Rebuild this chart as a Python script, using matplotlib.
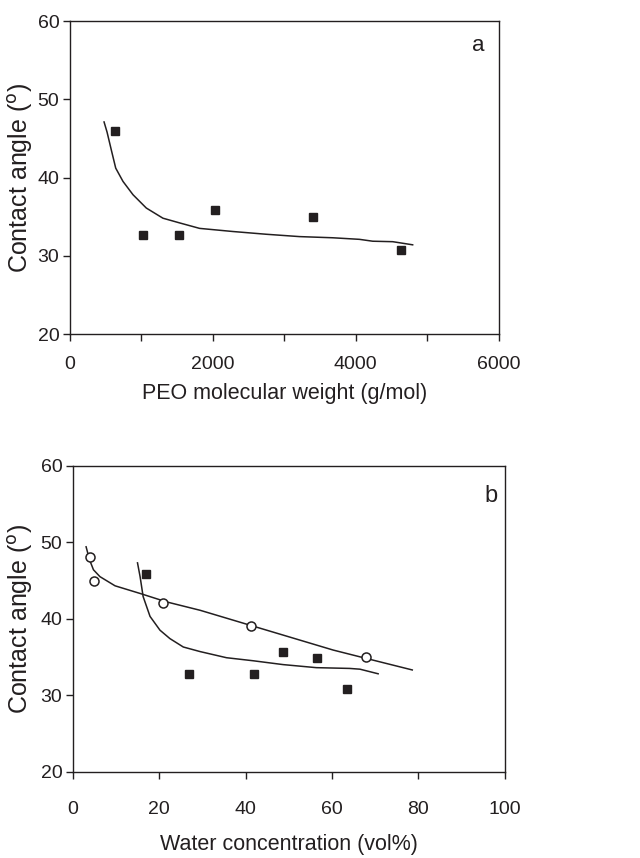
import numpy as np
import matplotlib
matplotlib.use("Agg")
import matplotlib.pyplot as plt
from matplotlib.ticker import MultipleLocator, FixedLocator

plt.rcParams['font.family'] = ['Liberation Sans', 'DejaVu Sans']

ink = '#231f20'

# panel a: contact angle vs PEO molecular weight
mw = [630, 1025, 1530, 2030, 3410, 4630]
angle_mw = [45.9, 32.7, 32.7, 35.8, 34.9, 30.8]
fit_mw_x = [480, 522, 582, 643, 745, 885, 1071, 1304, 1537, 1817, 2283, 2748,
            3214, 3680, 4053, 4239, 4519, 4798]
fit_mw_y = [47.1, 45.8, 43.5, 41.2, 39.5, 37.8, 36.1, 34.8, 34.2, 33.5, 33.1, 32.75,
            32.45, 32.3, 32.1, 31.86, 31.8, 31.4]

# panel b: contact angle vs water concentration
water_sq = [16.9, 27.0, 41.9, 48.7, 56.6, 63.6]
angle_sq = [45.8, 32.8, 32.8, 35.7, 34.8, 30.8]
water_ci = [3.9, 5.0, 20.8, 41.2, 67.8]
angle_ci = [48.1, 44.9, 42.0, 39.1, 35.0]
fit_sq_x = [15.0, 15.6, 16.3, 17.9, 20.2, 22.5, 25.6, 29.5, 35.6, 41.8, 48.7, 56.4,
            64.1, 66.5, 70.7]
fit_sq_y = [47.3, 45.5, 42.9, 40.3, 38.5, 37.4, 36.3, 35.7, 34.9, 34.5, 34.0, 33.6,
            33.5, 33.4, 32.8]
fit_ci_x = [3.1, 3.9, 4.8, 6.3, 9.8, 15.6, 21.7, 29.5, 37.2, 44.9, 52.6, 60.3, 68.0, 78.6]
fit_ci_y = [49.4, 47.7, 46.4, 45.5, 44.3, 43.3, 42.2, 41.1, 39.8, 38.5, 37.2, 35.9,
            34.8, 33.3]

fig = plt.figure(figsize=(6.4, 8.58), dpi=100)
ax1 = fig.add_axes([0.109, 0.6107, 0.670, 0.3648])
ax2 = fig.add_axes([0.1136, 0.1006, 0.675, 0.3566])


def style(ax, xmax, xmajor, xlabel, xpad):
    ax.set_xlim(0, xmax)
    ax.set_ylim(20, 60)
    ax.yaxis.set_major_locator(MultipleLocator(10))
    ax.xaxis.set_major_locator(FixedLocator(np.arange(0, xmax + 1, xmajor)))
    ax.tick_params(axis='both', direction='out', length=5, width=1, colors=ink,
                   labelsize=14)
    ax.tick_params(axis='x', pad=xpad)
    ax.tick_params(axis='y', pad=2.5)
    for s in ax.spines.values():
        s.set_linewidth(1.0)
        s.set_color(ink)
    ax.set_xlabel(xlabel, fontsize=15.5, color=ink)
    ax.set_ylabel('Contact angle ($^{\\rm o}$)', fontsize=18, color=ink)


# panel a
ax1.plot(fit_mw_x, fit_mw_y, color=ink, lw=1.1)
ax1.plot(mw, angle_mw, 's', color=ink, ms=5.5)
style(ax1, 6000, 2000, 'PEO molecular weight (g/mol)', 11)
ax1.xaxis.set_minor_locator(MultipleLocator(1000))
ax1.tick_params(axis='x', which='minor', direction='out', length=5, width=1, colors=ink)
ax1.xaxis.set_label_coords(0.5, -0.156)
ax1.yaxis.set_label_coords(-0.082, 0.5)
ax1.text(0.953, 0.923, 'a', transform=ax1.transAxes, fontsize=16, color=ink,
         ha='center', va='center')

# panel b
ax2.plot(fit_ci_x, fit_ci_y, color=ink, lw=1.1)
ax2.plot(fit_sq_x, fit_sq_y, color=ink, lw=1.1)
ax2.plot(water_sq, angle_sq, 's', color=ink, ms=5.5)
ax2.plot(water_ci, angle_ci, 'o', mfc='white', mec=ink, mew=1.1, ms=6.5)
style(ax2, 100, 20, 'Water concentration (vol%)', 16)
ax2.xaxis.set_label_coords(0.5, -0.205)
ax2.yaxis.set_label_coords(-0.087, 0.5)
ax2.text(0.968, 0.90, 'b', transform=ax2.transAxes, fontsize=17, color=ink,
         ha='center', va='center')

fig.savefig('out.png', dpi=100)
